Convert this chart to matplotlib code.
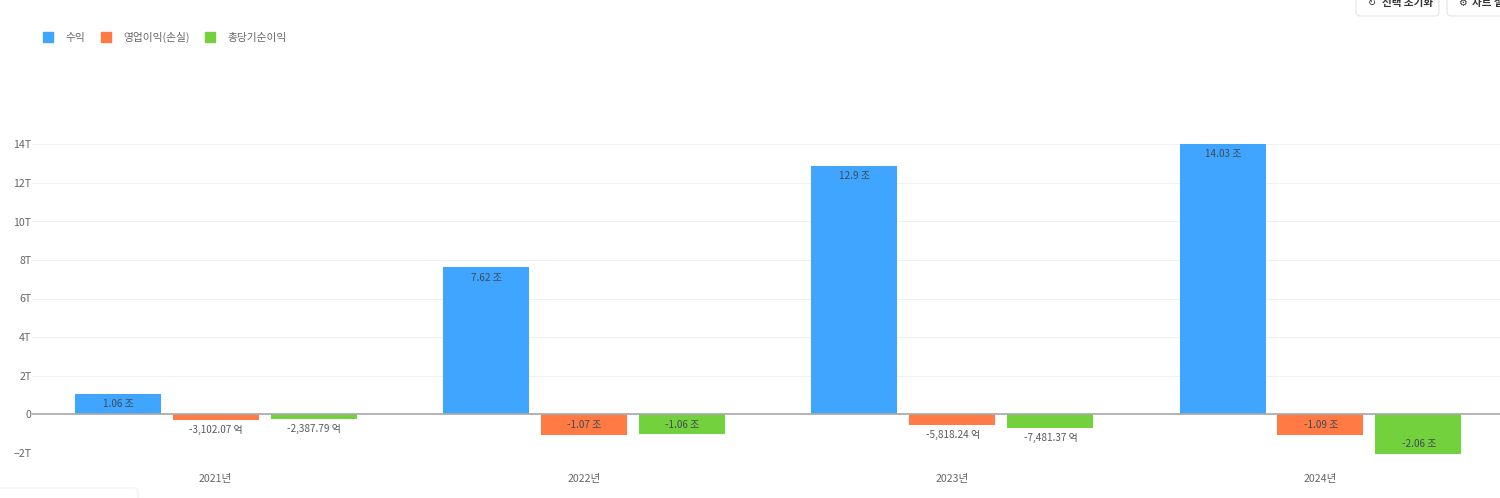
# -*- coding: utf-8 -*-
import numpy as np
import matplotlib
matplotlib.use('Agg')
import matplotlib.pyplot as plt
from matplotlib.patches import FancyBboxPatch, Rectangle

plt.rcParams['font.family'] = ['Noto Sans CJK KR', 'DejaVu Sans']

W, H = 1500, 498

years = ['2021년', '2022년', '2023년', '2024년']
revenue = [1.06, 7.62, 12.9, 14.03]
op_income = [-0.3102, -1.07, -0.5818, -1.09]
net_income = [-0.2388, -1.06, -0.7481, -2.06]
revenue_labels = ['1.06 조', '7.62 조', '12.9 조', '14.03 조']
op_labels = ['-3,102.07 억', '-1.07 조', '-5,818.24 억', '-1.09 조']
net_labels = ['-2,387.79 억', '-1.06 조', '-7,481.37 억', '-2.06 조']
series_names = ['수익', '영업이익(손실)', '총당기순이익']
colors = ['#40a5ff', '#ff7a45', '#73d13d']
yticks = [-2, 0, 2, 4, 6, 8, 10, 12, 14]
ytick_labels = ['−2T', '0', '2T', '4T', '6T', '8T', '10T', '12T', '14T']


def figx(px):
    return px / W


def figy(py):
    return 1 - py / H


fig = plt.figure(figsize=(W / 100, H / 100), dpi=100, facecolor='white')

# axes placed on the pixel rows of the -2T and 14T gridlines
left, right, top, bottom = 32, 1500, 144.5, 452.5
center0 = 215.6
group = 368.3
ax = fig.add_axes([figx(left), figy(bottom), figx(right - left), (bottom - top) / H])
ax.set_xlim((left - center0) / group, (right - center0) / group)
ax.set_ylim(-2, 14)

x = np.arange(len(years))
width = 86 / group
step = 98 / group
all_series = [revenue, op_income, net_income]
all_labels = [revenue_labels, op_labels, net_labels]

for i in range(3):
    pos = x + (i - 1) * step
    bars = ax.bar(pos, all_series[i], width=width, color=colors[i], zorder=3)
    for b in bars:
        b.set_clip_on(False)
    for px, v, lab in zip(pos, all_series[i], all_labels[i]):
        if v > 0:
            off = -7.4
        elif v > -0.9:
            off = -7.2  # short bars, label below the bar
        else:
            off = 7.0
        ax.annotate(lab, (px, v), xytext=(0.3, off), textcoords='offset points',
                    ha='center', va='center', fontsize=7.2, annotation_clip=False,
                    color='#555a60' if v > -0.9 and v < 0 else '#3f4a55', zorder=6)

ax.set_yticks(yticks)
ax.set_yticklabels(ytick_labels)
ax.set_xticks(x)
ax.set_xticklabels(years)
ax.grid(axis='y', color='#f0f0f0', linewidth=0.8, zorder=0)
ax.axhline(0, color='#a8a8a8', linewidth=1.2, zorder=5)
ax.tick_params(axis='both', length=0, labelsize=7.6, labelcolor='#666666')
ax.tick_params(axis='y', pad=0.5)
ax.tick_params(axis='x', pad=15.5)
for s in ax.spines.values():
    s.set_visible(False)

# legend, drawn by hand to keep the pixel spacing
legend_x = [43, 101, 205]
for lx, name, c in zip(legend_x, series_names, colors):
    fig.add_artist(Rectangle((figx(lx), figy(42)), 10 / W, 10 / H, color=c,
                             transform=fig.transFigure))
    fig.text(figx(lx + 22), figy(37.5), name, fontsize=7.7, color='#666666',
             ha='left', va='center')

# buttons cut off by the top and right edges
for bx, bw in [(1356, 83), (1447, 70)]:
    fig.add_artist(FancyBboxPatch((figx(bx), figy(16)), bw / W, 26 / H,
                                  boxstyle='round,pad=0,rounding_size=0.003',
                                  mutation_aspect=W / H,
                                  facecolor='white', edgecolor='#e4e4ea', linewidth=0.8,
                                  transform=fig.transFigure))
fig.text(figx(1382), figy(3), '선택 초기화', fontsize=7.6, fontweight='bold', color='#333333',
         ha='left', va='center')
fig.text(figx(1472), figy(3), '차트 설정', fontsize=7.6, fontweight='bold', color='#333333',
         ha='left', va='center')
fig.text(figx(1371), figy(3), '↻', fontsize=7, color='#333333', ha='center', va='center',
         family=['DejaVu Sans'])
fig.text(figx(1462), figy(3), '⚙', fontsize=7, color='#333333', ha='center', va='center',
         family=['DejaVu Sans'])

# faint edge of a panel at the bottom left
fig.add_artist(FancyBboxPatch((figx(-10), figy(510)), 148 / W, 22 / H,
                              boxstyle='round,pad=0,rounding_size=0.003',
                              mutation_aspect=W / H,
                              facecolor='white', edgecolor='#f6f6f6', linewidth=1.5,
                              transform=fig.transFigure))

plt.savefig('out.png', dpi=100, facecolor='white')
